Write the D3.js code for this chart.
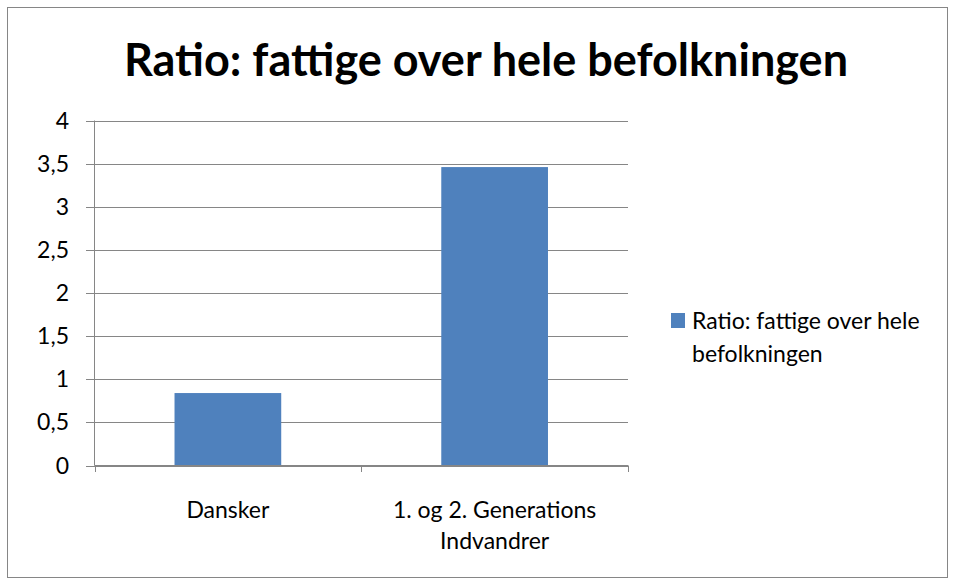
<!DOCTYPE html>
<html><head><meta charset="utf-8">
<script src="https://cdn.jsdelivr.net/npm/d3@7"></script>
<style>body{margin:0;background:#fff}svg{display:block}</style>
</head><body>
<svg id="c" width="953" height="581"></svg>
<script>
const title = "Ratio: fattige over hele befolkningen";
const categories = [["Dansker"], ["1. og 2. Generations", "Indvandrer"]];
const values = [0.84, 3.46];
const seriesName = ["Ratio: fattige over hele", "befolkningen"];
const yTicks = [0, 0.5, 1, 1.5, 2, 2.5, 3, 3.5, 4];

const svg = d3.select("#c");
const font = "Lato, 'Open Sans', sans-serif";
const grid = "#868686";
const barColor = "#4F81BD";
const fs = 23;

svg.append("rect").attr("x", 7.5).attr("y", 7.5).attr("width", 940).attr("height", 570)
  .attr("fill", "#fff").attr("stroke", grid).attr("stroke-width", 1);

svg.append("text").attr("x", 486).attr("y", 76).attr("text-anchor", "middle")
  .attr("font-family", font).attr("font-weight", "bold").attr("font-size", 45)
  .attr("fill", "#000").text(title);

const x = d3.scaleBand().domain(d3.range(values.length)).range([94.5, 628]).paddingInner(0).paddingOuter(0);
const y = d3.scaleLinear().domain([0, 4]).range([465.5, 120.5]);

// gridlines
svg.append("g").selectAll("line").data(yTicks).join("line")
  .attr("x1", 86).attr("x2", 628).attr("y1", d => Math.round(y(d)) + 0.5).attr("y2", d => Math.round(y(d)) + 0.5)
  .attr("stroke", grid).attr("stroke-width", 1);

// bars
const bw = x.bandwidth() * 0.4;
svg.append("g").selectAll("rect").data(values).join("rect")
  .attr("x", (d, i) => x(i) + (x.bandwidth() - bw) / 2)
  .attr("width", bw)
  .attr("y", d => y(d)).attr("height", d => y(0) - y(d))
  .attr("fill", barColor);

// y axis line
svg.append("line").attr("x1", 94.5).attr("x2", 94.5).attr("y1", y(4)).attr("y2", y(0))
  .attr("stroke", grid);
// x axis line
svg.append("line").attr("x1", 94.5).attr("x2", 628).attr("y1", 465.5).attr("y2", 465.5).attr("stroke", grid);
// x ticks at boundaries
const bounds = d3.range(values.length + 1).map(i => i < values.length ? x(i) : x(values.length - 1) + x.bandwidth());
svg.append("g").selectAll("line").data(bounds).join("line")
  .attr("x1", d => Math.round(d) + 0.5).attr("x2", d => Math.round(d) + 0.5).attr("y1", 465.5).attr("y2", 472)
  .attr("stroke", grid);

// y labels
svg.append("g").selectAll("text").data(yTicks).join("text")
  .attr("x", 69).attr("y", d => y(d) + 8).attr("text-anchor", "end")
  .attr("font-family", font).attr("font-size", fs).attr("fill", "#000")
  .text(d => String(d).replace(".", ","));

// x labels
categories.forEach((lines, i) => {
  lines.forEach((t, j) => {
    svg.append("text").attr("x", x(i) + x.bandwidth() / 2).attr("y", 518 + j * 31)
      .attr("text-anchor", "middle").attr("font-family", font).attr("font-size", fs).attr("fill", "#000").text(t);
  });
});

// legend
svg.append("rect").attr("x", 671).attr("y", 313).attr("width", 14).attr("height", 15).attr("fill", barColor);
seriesName.forEach((t, j) => {
  svg.append("text").attr("x", 692).attr("y", 329 + j * 33).attr("font-family", font).attr("font-size", fs)
    .attr("fill", "#000").text(t);
});
</script>
</body></html>
